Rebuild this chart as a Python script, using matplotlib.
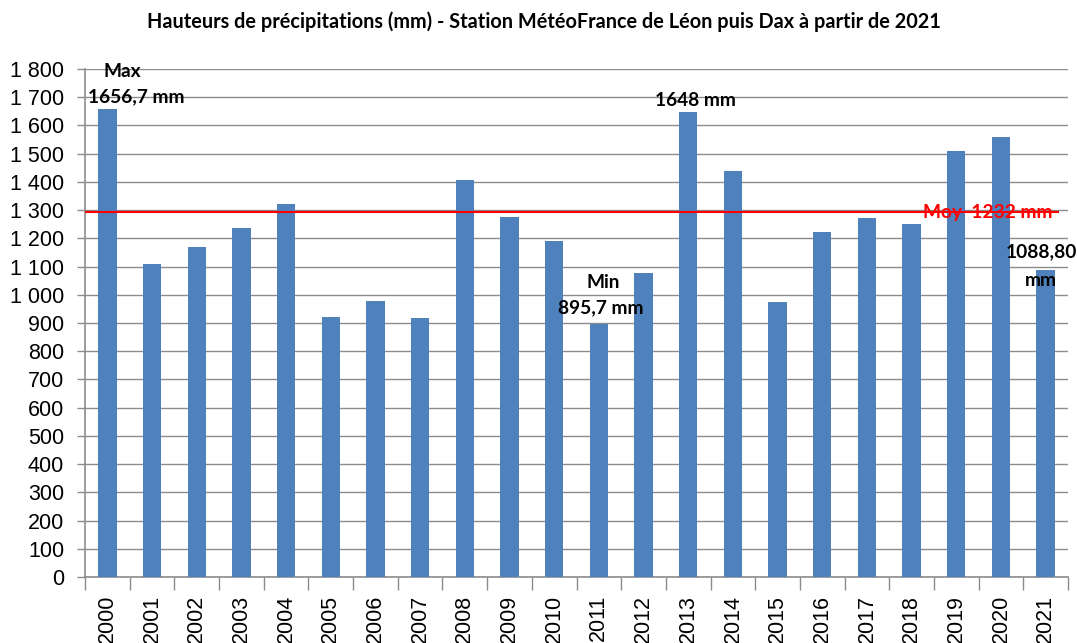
import matplotlib.pyplot as plt
import numpy as np

years = [str(y) for y in range(2000, 2022)]
pluie = [1656.7, 1110, 1168, 1235, 1320, 920, 978, 916, 1405, 1275, 1190,
         895.7, 1077, 1648, 1440, 976, 1222, 1272, 1250, 1510, 1558, 1088.8]
moyenne_ligne = 1295
yticks = list(range(0, 1801, 100))
ytick_labels = ["{:,}".format(v).replace(",", " ") for v in yticks]

blue = "#4F81BD"
grid_c = "#8C8C8C"

fig = plt.figure(figsize=(10.77, 6.43), dpi=100)
ax = fig.add_axes([0.079, 0.1026, 0.9126, 0.7901])

x = np.arange(len(years))
ax.bar(x, pluie, width=0.41, color=blue, zorder=3)
ax.axhline(moyenne_ligne, xmin=0, xmax=0.99, color="#FF0000", lw=1.5, zorder=5)

ax.set_xlim(-0.5, len(years) - 0.5)
ax.set_ylim(0, 1800)
ax.set_yticks(yticks)
ax.set_yticklabels(ytick_labels, fontsize=15.5, family="Liberation Sans")
ax.yaxis.grid(True, color=grid_c, lw=1, zorder=0)

ax.set_xticks(np.arange(-0.5, len(years), 1))
ax.set_xticklabels([])
ax.set_xticks(x, minor=True)
ax.set_xticklabels(years, minor=True, rotation=90, fontsize=15.5,
                   family="Liberation Sans")
ax.tick_params(axis="x", which="major", length=9, color=grid_c, width=1)
ax.tick_params(axis="x", which="minor", length=0, pad=13)
ax.tick_params(axis="y", length=6, color=grid_c, width=1, pad=9)

for s in ["top", "right"]:
    ax.spines[s].set_visible(False)
for s in ["left", "bottom"]:
    ax.spines[s].set_color(grid_c)
    ax.spines[s].set_linewidth(1.2)

bold = dict(fontsize=13.8, fontweight="bold", family="Lato",
            ha="center", va="center", zorder=6)
ax.text(0.33, 1790, "Max", **bold)
ax.text(0.64, 1701, "1656,7 mm", **bold)
ax.text(13.17, 1687, "1648 mm", **bold)
ax.text(11.09, 1042, "Min", **bold)
ax.text(11.04, 953, "895,7 mm", **bold)
ax.text(20.9, 1152, "1088,80", **bold)
ax.text(20.9, 1052, "mm", **bold)
ax.text(19.7, 1293, "Moy  1232 mm", color="#FF0000", fontsize=13.8,
        fontweight="bold", family="Lato", ha="center", va="center", zorder=4)

fig.text(0.505, 0.966, "Hauteurs de précipitations (mm) - Station MétéoFrance "
         "de Léon puis Dax à partir de 2021", ha="center", va="center",
         fontsize=14.3, fontweight="bold", family="Lato")

fig.savefig("out.png", dpi=100)
